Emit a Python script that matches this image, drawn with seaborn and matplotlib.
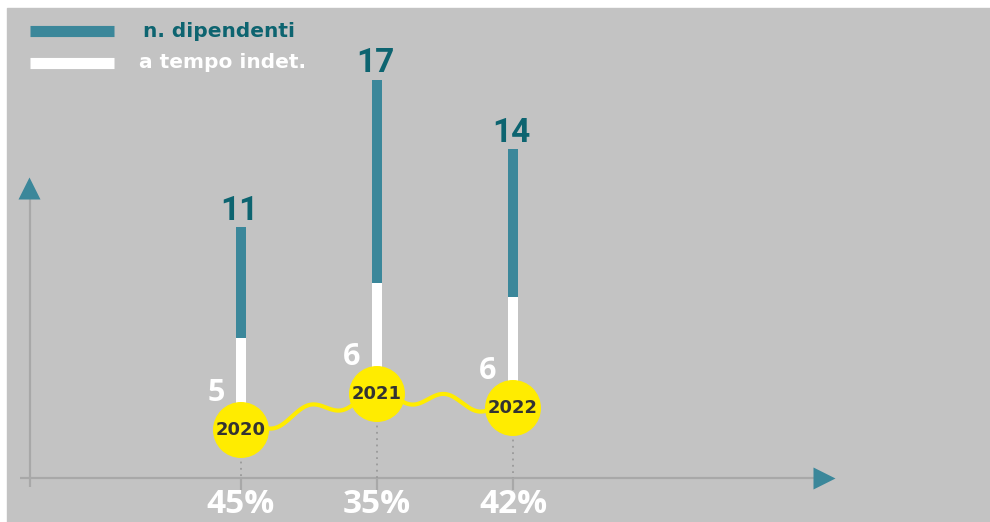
import numpy as np
import matplotlib
matplotlib.use('Agg')
import matplotlib.pyplot as plt
from matplotlib.patches import Rectangle
import seaborn as sns

# data read from the infographic
years = ['2020', '2021', '2022']
employees = [11, 17, 14]
permanent = [5, 6, 6]
permanent_share = ['45%', '35%', '42%']

# colours
BG = '#c3c3c3'
BLUE = '#3b879a'
TEAL = '#0d6470'
YELLOW = '#ffec00'
AXIS = '#a8a8a8'
DARK = '#333333'

# pixel layout of the original picture (990 x 522)
W, H = 990, 522
X0, SX = 241, 136      # pixel of first category, pixels per category
Y0, SY = 478, 18.5     # pixel of the baseline, pixels per employee


def dx(p):
    return (p - X0) / SX


def dy(p):
    return (Y0 - p) / SY


badge_y = [dy(430), dy(394), dy(408)]   # where the year badges sit
badge_r = 28 / SY

sns.set_theme(style='white')
fig = plt.figure(figsize=(W / 100, H / 100), dpi=100)
fig.patch.set_facecolor('white')
fig.add_artist(Rectangle((7 / W, 0), 1 - 7 / W, 1 - 8 / H, transform=fig.transFigure,
                         color=BG, zorder=0))
ax = fig.add_axes([0, 0, 1, 1])
ax.set_facecolor('none')

# bars start from the badges
sns.barplot(x=years, y=employees, bottom=badge_y, color=BLUE, saturation=1,
            width=0.08, ax=ax, zorder=3, linewidth=0)
sns.barplot(x=years, y=permanent, bottom=badge_y, color='white', saturation=1,
            width=0.08, ax=ax, zorder=4, linewidth=0)

# axes with arrows
ax.plot([dx(20), dx(815)], [0, 0], color=AXIS, lw=1.6, zorder=1, solid_capstyle='butt')
ax.plot([dx(30), dx(30)], [dy(487), dy(196)], color=AXIS, lw=1.6, zorder=1, solid_capstyle='butt')
ax.plot(dx(823.5), 0, marker='>', ms=15.5, color=BLUE, mec='none', zorder=2)
ax.plot(dx(29.5), dy(187.5), marker='^', ms=15.5, color=BLUE, mec='none', zorder=2)

# wavy connector between the badges
amp = 7 / SY
for i in range(len(years) - 1):
    t = np.linspace(0, 1, 200)
    yy = badge_y[i] + (badge_y[i + 1] - badge_y[i]) * t + amp * np.sin(4 * np.pi * (t - 0.375))
    ax.plot(i + t, yy, color=YELLOW, lw=3, zorder=5, solid_capstyle='round')

for i, yr in enumerate(years):
    # dotted drop line and tick
    ax.plot([i, i], [badge_y[i], 0], color='#9a9a9a', lw=1.3, ls=(0, (1, 2.5)), zorder=1)
    ax.plot([i, i], [0, dy(490)], color=AXIS, lw=1.6, zorder=1, solid_capstyle='butt')
    # value labels
    ax.text(i - 0.01, badge_y[i] + employees[i] + 7 / SY, str(employees[i]), ha='center',
            va='baseline', color=TEAL, fontsize=24, fontweight='bold',
            family=['Liberation Sans Narrow', 'Roboto', 'DejaVu Sans'], zorder=6)
    ax.text(i - 25 / SX, badge_y[i] + badge_r + 1 / SY, str(permanent[i]), ha='center',
            va='baseline', color='white', fontsize=22, fontweight='bold',
            family=['Open Sans', 'DejaVu Sans'], zorder=6)
    ax.text(i, dy(521), permanent_share[i], ha='center', va='bottom', color='white',
            fontsize=24, fontweight='bold', family=['Open Sans', 'DejaVu Sans'], zorder=6)

sns.scatterplot(x=years, y=badge_y, s=56 ** 2 * 0.72 ** 2, color=YELLOW,
                edgecolor='none', ax=ax, zorder=7, legend=False)
for i, yr in enumerate(years):
    ax.text(i, badge_y[i], yr, ha='center', va='center', color=DARK, fontsize=13,
            fontweight='bold', family=['DejaVu Sans'], zorder=8)

# legend drawn by hand
ax.plot([dx(30), dx(114)], [dy(31.5)] * 2, color=BLUE, lw=8, solid_capstyle='butt')
ax.plot([dx(30), dx(114)], [dy(62.5)] * 2, color='white', lw=8, solid_capstyle='butt')
ax.text(dx(143), dy(31.5), 'n. dipendenti', color=TEAL, fontsize=14.5, fontweight='bold',
        va='center', ha='left', family=['DejaVu Sans'])
ax.text(dx(139), dy(62.5), 'a tempo indet.', color='white', fontsize=14.5, fontweight='bold',
        va='center', ha='left', family=['DejaVu Sans'])

ax.set_xlim(dx(0), dx(W))
ax.set_ylim(dy(H), dy(0))
ax.axis('off')

fig.savefig('out.png', dpi=100, facecolor=fig.get_facecolor())
